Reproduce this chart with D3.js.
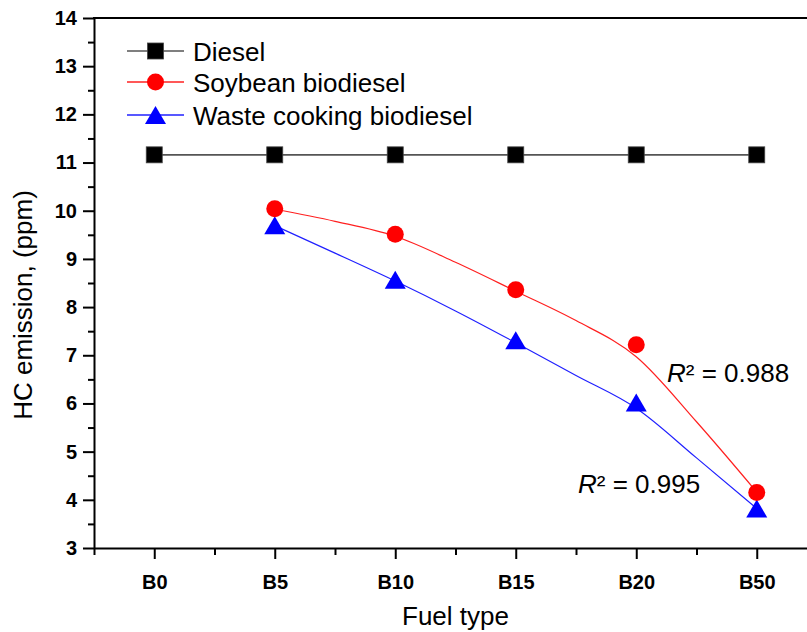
<!DOCTYPE html>
<html>
<head>
<meta charset="utf-8">
<script src="https://cdn.jsdelivr.net/npm/d3@7"></script>
<style>
  body { margin: 0; background: #fff; }
  svg { display: block; font-family: Arial, "Liberation Sans", sans-serif; }
</style>
</head>
<body>
<div id="chart"></div>
<script>
let w = 807;
let h = 632;

// data
let fuels = ["B0", "B5", "B10", "B15", "B20", "B50"];
let diesel = [11.16, 11.16, 11.16, 11.16, 11.16, 11.16];
let soybean = [null, 10.04, 9.51, 8.36, 7.22, 4.15];
let waste = [null, 9.70, 8.57, 7.31, 6.02, 3.82];
// fitted trend lines as drawn, read at half-category steps from B5 to B50
let fitPos = [1, 1.5, 2, 2.5, 3, 3.5, 4, 4.5, 5];
let soybeanFit = [10.03, 9.78, 9.47, 8.93, 8.33, 7.72, 6.97, 5.62, 4.16];
let wasteFit = [9.69, 9.12, 8.54, 7.92, 7.26, 6.58, 5.90, 4.87, 3.82];
let yTicks = [3, 4, 5, 6, 7, 8, 9, 10, 11, 12, 13, 14];
let r2Soy = "0.988";
let r2Waste = "0.995";

let plotLeft = 94, plotRight = 817, plotTop = 18, plotBottom = 548;

let svg = d3.select("#chart")
    .append("svg")
    .attr("width", w)
    .attr("height", h);

let x = d3.scalePoint().domain(fuels).range([plotLeft, plotRight]).padding(0.5);
let xi = d3.scaleLinear().domain([-0.5, fuels.length - 0.5]).range([plotLeft, plotRight]);
let y = d3.scaleLinear().domain([3, 14]).range([plotBottom, plotTop]);

// minor ticks
svg.append("g")
    .attr("transform", "translate(" + plotLeft + ",0)")
    .call(d3.axisLeft(y).tickValues(d3.range(3.5, 14, 1)).tickSize(6).tickFormat(""))
    .call(g => g.select(".domain").remove())
    .selectAll("line").attr("stroke-width", 2);

svg.append("g")
    .attr("transform", "translate(0," + plotBottom + ")")
    .call(d3.axisBottom(xi).tickValues(d3.range(-0.5, fuels.length, 1)).tickSize(7).tickFormat(""))
    .call(g => g.select(".domain").remove())
    .selectAll("line").attr("stroke-width", 2);

// major axes
let yAxis = svg.append("g")
    .attr("transform", "translate(" + plotLeft + ",0)")
    .call(d3.axisLeft(y).tickValues(yTicks).tickSize(11).tickPadding(6).tickSizeOuter(0));
yAxis.select(".domain").attr("stroke-width", 2);
yAxis.selectAll("line").attr("stroke-width", 2);
yAxis.selectAll("text")
    .attr("font-size", 20)
    .attr("font-weight", "bold")
    .attr("font-family", "Arial, 'Liberation Sans', sans-serif")
    .attr("fill", "#000");

let xAxis = svg.append("g")
    .attr("transform", "translate(0," + plotBottom + ")")
    .call(d3.axisBottom(x).tickSize(11).tickPadding(16).tickSizeOuter(0));
xAxis.select(".domain").attr("stroke-width", 2);
xAxis.selectAll("line").attr("stroke-width", 2);
xAxis.selectAll("text")
    .attr("font-size", 20)
    .attr("font-weight", "bold")
    .attr("font-family", "Arial, 'Liberation Sans', sans-serif")
    .attr("fill", "#000");

// top frame line
svg.append("line")
    .attr("x1", plotLeft - 1).attr("x2", w + 20)
    .attr("y1", plotTop).attr("y2", plotTop)
    .attr("stroke", "#000")
    .attr("stroke-width", 2);

// axis titles
svg.append("text")
    .attr("x", (plotLeft + plotRight) / 2)
    .attr("y", 625)
    .attr("text-anchor", "middle")
    .attr("font-size", 26)
    .text("Fuel type");

svg.append("text")
    .attr("transform", "translate(32,305) rotate(-90)")
    .attr("text-anchor", "middle")
    .attr("font-size", 26)
    .text("HC emission, (ppm)");

// lines
let lineStraight = d3.line()
    .x(d => x(d.f))
    .y(d => y(d.v));

let lineCurve = d3.line()
    .x(d => xi(d.p))
    .y(d => y(d.v))
    .curve(d3.curveMonotoneX);

function pairs(arr) {
    return fuels.map((f, i) => ({ f: f, v: arr[i] })).filter(d => d.v != null);
}
function fitPairs(arr) {
    return fitPos.map((p, i) => ({ p: p, v: arr[i] }));
}

svg.append("path")
    .attr("d", lineStraight(pairs(diesel)))
    .attr("fill", "none")
    .attr("stroke", "#555")
    .attr("stroke-width", 1.6);

svg.append("path")
    .attr("d", lineCurve(fitPairs(soybeanFit)))
    .attr("fill", "none")
    .attr("stroke", "#ff2020")
    .attr("stroke-width", 1.2);

svg.append("path")
    .attr("d", lineCurve(fitPairs(wasteFit)))
    .attr("fill", "none")
    .attr("stroke", "#2020ff")
    .attr("stroke-width", 1.2);

// markers
function square(g) {
    g.append("rect")
        .attr("x", -8).attr("y", -8)
        .attr("width", 16).attr("height", 16)
        .attr("fill", "#000")
        .attr("stroke", "#444")
        .attr("stroke-width", 0.8);
}
function circle(g) {
    g.append("circle")
        .attr("r", 8.5)
        .attr("fill", "#ff0000");
}
function triangle(g) {
    g.append("path")
        .attr("d", "M0,-9L10.5,9L-10.5,9Z")
        .attr("fill", "#0000ff");
}

svg.selectAll(".dieselPt").data(pairs(diesel)).enter()
    .append("g").attr("class", "dieselPt")
    .attr("transform", d => "translate(" + x(d.f) + "," + y(d.v) + ")")
    .call(square);

svg.selectAll(".wastePt").data(pairs(waste)).enter()
    .append("g").attr("class", "wastePt")
    .attr("transform", d => "translate(" + x(d.f) + "," + y(d.v) + ")")
    .call(triangle);

svg.selectAll(".soyPt").data(pairs(soybean)).enter()
    .append("g").attr("class", "soyPt")
    .attr("transform", d => "translate(" + x(d.f) + "," + y(d.v) + ")")
    .call(circle);

// R² labels
function r2Label(px, py, val) {
    let t = svg.append("text")
        .attr("x", px).attr("y", py)
        .attr("font-size", 26);
    t.append("tspan").attr("font-style", "italic").text("R");
    t.append("tspan").text("\u00B2 = " + val);
}
r2Label(667, 382, r2Soy);
r2Label(578, 493, r2Waste);

// legend
let legendItems = [
    { name: "Diesel", color: "#555", mark: square },
    { name: "Soybean biodiesel", color: "#ff2020", mark: circle },
    { name: "Waste cooking biodiesel", color: "#2020ff", mark: triangle }
];
let legendY = [51, 82, 115];

let lg = svg.selectAll(".legend").data(legendItems).enter()
    .append("g").attr("class", "legend")
    .attr("transform", (d, i) => "translate(0," + legendY[i] + ")");

lg.append("line")
    .attr("x1", 127).attr("x2", 184)
    .attr("stroke", d => d.color)
    .attr("stroke-width", 1.4);

lg.each(function (d) {
    let g = d3.select(this).append("g").attr("transform", "translate(155.5,0)");
    d.mark(g);
});

lg.append("text")
    .attr("x", 193)
    .attr("y", 9.5)
    .attr("font-size", 26)
    .text(d => d.name);
</script>
</body>
</html>
